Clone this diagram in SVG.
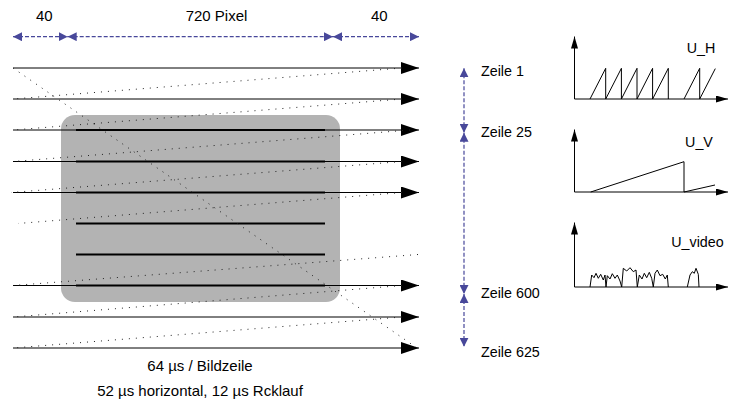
<svg xmlns="http://www.w3.org/2000/svg" width="731" height="402" viewBox="0 0 731 402">
<style>
  text { font-family: "Liberation Sans", Arial, Helvetica, sans-serif; fill: #000; }
  .lbl { font-size: 15px; }
  .lbl2 { font-size: 14.3px; }
  .scan { stroke: #000; stroke-width: 1; fill: none; }
  .thick { stroke: #000; stroke-width: 2.2; fill: none; }
  .dot { stroke: #222; stroke-width: 1; stroke-dasharray: 1 6; fill: none; }
  .dim { stroke: #48489a; stroke-width: 1.2; stroke-dasharray: 4 2; fill: none; }
  .ax { stroke: #000; stroke-width: 1; fill: none; }
  .sig { stroke: #000; stroke-width: 1; fill: none; stroke-linejoin: miter; }
</style>
<defs>
  <marker id="ah" markerUnits="userSpaceOnUse" markerWidth="18" markerHeight="12" refX="18" refY="6" orient="auto">
    <path d="M0,0 L18,6 L0,12 z" fill="#000"/>
  </marker>
  <marker id="dm" markerUnits="userSpaceOnUse" markerWidth="9" markerHeight="9" refX="9" refY="4.5" orient="auto-start-reverse">
    <path d="M0,0 L9,4.5 L0,9 z" fill="#48489a"/>
  </marker>
  <marker id="axh" markerUnits="userSpaceOnUse" markerWidth="12" markerHeight="7" refX="12" refY="3.5" orient="auto">
    <path d="M0,0 L12,3.5 L0,7 z" fill="#000"/>
  </marker>
</defs>

<g id="screen">
  <rect x="61" y="115" width="279" height="187" rx="14" ry="14" fill="#b3b3b3"/>
</g>

<g id="connectors">
  <!-- scan lines -->
  <line class="scan" x1="13" y1="68" x2="419" y2="68" marker-end="url(#ah)"/>
  <line class="scan" x1="13" y1="99" x2="419" y2="99" marker-end="url(#ah)"/>
  <line class="scan" x1="13" y1="130" x2="419" y2="130" marker-end="url(#ah)"/>
  <line class="scan" x1="13" y1="161.5" x2="419" y2="161.5" marker-end="url(#ah)"/>
  <line class="scan" x1="13" y1="192.5" x2="419" y2="192.5" marker-end="url(#ah)"/>
  <line class="scan" x1="13" y1="285.5" x2="419" y2="285.5" marker-end="url(#ah)"/>
  <line class="scan" x1="13" y1="317" x2="419" y2="317" marker-end="url(#ah)"/>
  <line class="scan" x1="13" y1="348" x2="419" y2="348" marker-end="url(#ah)"/>
  <!-- visible picture lines -->
  <line class="thick" x1="76" y1="130" x2="325" y2="130"/>
  <line class="thick" x1="76" y1="161.5" x2="325" y2="161.5"/>
  <line class="thick" x1="76" y1="192.5" x2="325" y2="192.5"/>
  <line class="thick" x1="76" y1="223.5" x2="325" y2="223.5"/>
  <line class="thick" x1="76" y1="254.5" x2="325" y2="254.5"/>
  <line class="thick" x1="76" y1="285.5" x2="325" y2="285.5"/>
  <!-- horizontal retrace -->
  <line class="dot" x1="402" y1="68" x2="13" y2="99"/>
  <line class="dot" x1="402" y1="99" x2="13" y2="130"/>
  <line class="dot" x1="410" y1="130" x2="13" y2="161.5"/>
  <line class="dot" x1="402" y1="161.5" x2="11" y2="192.5"/>
  <line class="dot" x1="402" y1="192.5" x2="18" y2="223.5"/>
  <line class="dot" x1="418" y1="254.5" x2="13" y2="285.5"/>
  <line class="dot" x1="402" y1="285.5" x2="13" y2="317"/>
  <line class="dot" x1="402" y1="317" x2="13" y2="348"/>
  <!-- vertical retrace -->
  <line class="dot" x1="13" y1="68" x2="417" y2="348"/>
  <!-- dimension lines -->
  <line class="dim" x1="13" y1="36.7" x2="67.7" y2="36.7" marker-start="url(#dm)" marker-end="url(#dm)"/>
  <line class="dim" x1="67.7" y1="36.7" x2="333" y2="36.7" marker-start="url(#dm)" marker-end="url(#dm)"/>
  <line class="dim" x1="333" y1="36.7" x2="419" y2="36.7" marker-start="url(#dm)" marker-end="url(#dm)"/>
  <line class="dim" x1="464" y1="68.3" x2="464" y2="132.7" marker-start="url(#dm)" marker-end="url(#dm)"/>
  <line class="dim" x1="464" y1="132.7" x2="464" y2="294" marker-start="url(#dm)" marker-end="url(#dm)"/>
  <line class="dim" x1="464" y1="294" x2="464" y2="346.7" marker-start="url(#dm)" marker-end="url(#dm)"/>
</g>

<g id="labels">
  <text class="lbl" x="44.3" y="21" text-anchor="middle">40</text>
  <text class="lbl" x="216.5" y="21" text-anchor="middle">720 Pixel</text>
  <text class="lbl" x="379.3" y="21" text-anchor="middle">40</text>
  <text class="lbl2" x="481" y="76">Zeile 1</text>
  <text class="lbl2" x="481" y="137">Zeile 25</text>
  <text class="lbl2" x="481" y="297.5">Zeile 600</text>
  <text class="lbl2" x="481" y="357">Zeile 625</text>
  <text class="lbl" x="200" y="370.5" text-anchor="middle">64 µs / Bildzeile</text>
  <text class="lbl" x="200" y="396" text-anchor="middle">52 µs horizontal, 12 µs Rcklauf</text>
</g>

<g id="graph-uh">
  <line class="ax" x1="574.5" y1="99" x2="574.5" y2="36.5" marker-end="url(#axh)"/>
  <line class="ax" x1="574.5" y1="99" x2="728" y2="99" marker-end="url(#axh)"/>
  <path class="sig" d="M590,99 L605.7,68.3 L605.7,99 L621.4,68.3 L621.4,99 L637,68.3 L637,99 L652.6,68.3 L652.6,99 L668.3,68.3 L668.3,99 M684,99 L699.7,68.3 L699.7,99 L715.3,68.6"/>
  <text class="lbl2" x="701" y="53.3" text-anchor="middle">U_H</text>
</g>

<g id="graph-uv">
  <line class="ax" x1="574.5" y1="192" x2="574.5" y2="129.5" marker-end="url(#axh)"/>
  <line class="ax" x1="574.5" y1="192" x2="728" y2="192" marker-end="url(#axh)"/>
  <path class="sig" d="M590.7,192 L684,161.7 L684,192 L715,185"/>
  <text class="lbl2" x="699" y="146.7" text-anchor="middle">U_V</text>
</g>

<g id="graph-uvideo">
  <line class="ax" x1="574.5" y1="287" x2="574.5" y2="222.5" marker-end="url(#axh)"/>
  <line class="ax" x1="574.5" y1="287" x2="728" y2="287" marker-end="url(#axh)"/>
  <path class="sig" d="M590,287 L591.7,275 L594,277.7 L596,273.3 L598.3,278.3 L600.7,274.3 L603.3,280 L605,275 L606,287 L607.3,275.7 L610,279 L612.3,273.7 L615,278.3 L617.3,275 L620,281 L621.7,287 L623.3,268.3 L626.7,271 L630,267.7 L633.3,271.7 L636,270 L637.3,287 L639.3,275 L642,279 L644.3,273.3 L646.7,277.7 L649.3,272.3 L651.7,278.3 L653.3,287 L655,273.3 L657.3,270 L660,275.7 L662.7,274.3 L665.3,279 L667.3,275 L668.3,287 M687.3,287 L690,275 L692.3,271.7 L694.3,273.3 L696,268.3 L698.3,274.3 L699,287"/>
  <text class="lbl2" x="697.5" y="247" text-anchor="middle">U_video</text>
</g>
</svg>
